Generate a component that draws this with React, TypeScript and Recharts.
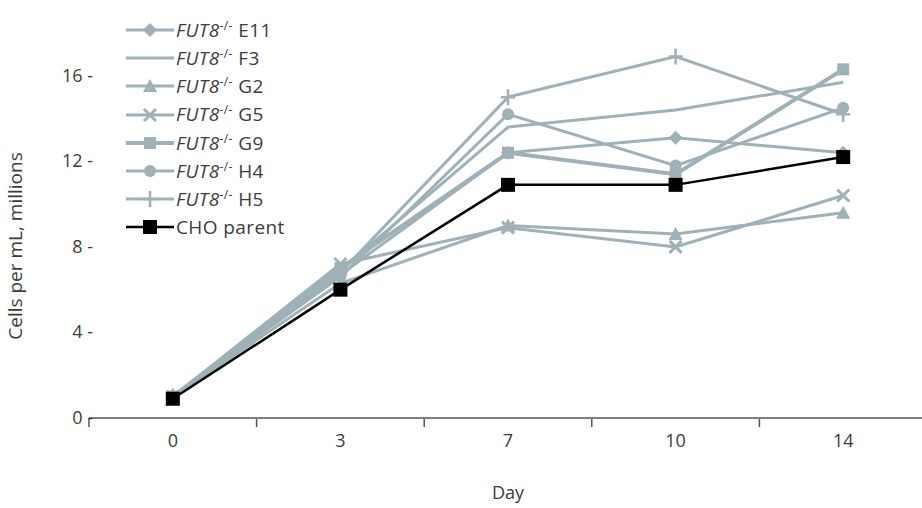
import React from 'react';
import { LineChart, Line, XAxis, YAxis } from 'recharts';

const days = ['0', '3', '7', '10', '14'];

const e11 = [1.0, 6.7, 12.4, 13.1, 12.4];
const f3 = [1.0, 6.9, 13.6, 14.4, 15.7];
const g2 = [1.0, 6.3, 9.0, 8.6, 9.6];
const g5 = [1.0, 7.2, 8.9, 8.0, 10.4];
const g9 = [1.0, 7.0, 12.4, 11.4, 16.3];
const h4 = [1.0, 6.6, 14.2, 11.8, 14.5];
const h5 = [1.0, 6.8, 15.0, 16.9, 14.2];
const cho = [0.9, 6.0, 10.9, 10.9, 12.2];

const yTicks = [0, 4, 8, 12, 16];
const xTicks = [-0.5, 0, 0.5, 1, 1.5, 2, 2.5, 3, 3.5, 4, 4.5];

const GREY = '#9fb1b8';
const FONT = '"Open Sans", sans-serif';
const TEXT = '#3c3c3c';

type Shape = 'diamond' | 'none' | 'triangle' | 'cross' | 'square' | 'circle' | 'plus' | 'black';

const series: { key: string; clone?: string; name: string; shape: Shape; color: string; width: number }[] = [
  { key: 'e11', clone: 'E11', name: 'E11', shape: 'diamond', color: GREY, width: 3 },
  { key: 'f3', clone: 'F3', name: 'F3', shape: 'none', color: GREY, width: 3 },
  { key: 'g2', clone: 'G2', name: 'G2', shape: 'triangle', color: GREY, width: 3 },
  { key: 'g5', clone: 'G5', name: 'G5', shape: 'cross', color: GREY, width: 3 },
  { key: 'g9', clone: 'G9', name: 'G9', shape: 'square', color: GREY, width: 4 },
  { key: 'h4', clone: 'H4', name: 'H4', shape: 'circle', color: GREY, width: 3 },
  { key: 'h5', clone: 'H5', name: 'H5', shape: 'plus', color: GREY, width: 3 },
  { key: 'cho', name: 'CHO parent', shape: 'black', color: '#000', width: 2.5 },
];

const values: Record<string, number[]> = { e11, f3, g2, g5, g9, h4, h5, cho };

const data = days.map((d, i) => {
  const row: Record<string, number | string> = { idx: i, day: d };
  Object.keys(values).forEach((k) => (row[k] = values[k][i]));
  return row;
});

const Marker = ({ cx, cy, shape, color }: { cx: number; cy: number; shape: Shape; color: string }) => {
  if (cx == null || cy == null) return null;
  switch (shape) {
    case 'diamond':
      return <path d={`M${cx},${cy - 7}L${cx + 7},${cy}L${cx},${cy + 7}L${cx - 7},${cy}Z`} fill={color} />;
    case 'triangle':
      return <path d={`M${cx},${cy - 7}L${cx + 7},${cy + 6}L${cx - 7},${cy + 6}Z`} fill={color} />;
    case 'cross':
      return (
        <path d={`M${cx - 6},${cy - 6}L${cx + 6},${cy + 6}M${cx + 6},${cy - 6}L${cx - 6},${cy + 6}`} stroke={color} strokeWidth={3} />
      );
    case 'square':
      return <rect x={cx - 6} y={cy - 6} width={12} height={12} fill={color} />;
    case 'circle':
      return <circle cx={cx} cy={cy} r={6} fill={color} />;
    case 'plus':
      return <path d={`M${cx - 7},${cy}L${cx + 7},${cy}M${cx},${cy - 8}L${cx},${cy + 8}`} stroke={color} strokeWidth={2.5} />;
    case 'black':
      return <rect x={cx - 7} y={cy - 7} width={14} height={14} fill="#000" />;
    default:
      return null;
  }
};

const YTick = ({ x, y, payload }: any) => (
  <text x={x + 12} y={y} dy={6} textAnchor="end" fontFamily={FONT} fontSize={18} fill={TEXT}>
    {payload.value} -
  </text>
);

const XTick = ({ x, y, payload }: any) => {
  const v = payload.value as number;
  if (Number.isInteger(v)) {
    return (
      <text x={x} y={y + 21} textAnchor="middle" fontFamily={FONT} fontSize={18} fill={TEXT}>
        {days[v]}
      </text>
    );
  }
  return <line x1={x} x2={x} y1={y - 7} y2={y + 1} stroke="#555" strokeWidth={1.5} />;
};

const ChartLegend = () => (
  <div style={{ position: 'absolute', left: 124, top: 16, fontFamily: FONT, fontSize: 19, color: TEXT, letterSpacing: 0.4 }}>
    {series.map((s) => (
      <div key={s.key} style={{ display: 'flex', alignItems: 'center', height: 28.2 }}>
        <svg width={52} height={28} style={{ display: 'block' }}>
          <line x1={2} x2={50} y1={14} y2={14} stroke={s.color} strokeWidth={s.width} />
          <Marker cx={26} cy={14} shape={s.shape} color={s.color} />
        </svg>
        {s.clone ? (
          <span>
            <i>FUT8</i>
            <sup style={{ fontSize: 12 }}>-/-</sup> {s.clone}
          </span>
        ) : (
          <span>{s.name}</span>
        )}
      </div>
    ))}
  </div>
);

export default function App() {
  return (
    <div style={{ position: 'absolute', left: 0, top: 0, width: 922, height: 508, overflow: 'hidden', background: '#fff' }}>
      <LineChart width={927} height={508} data={data} margin={{ top: 33, right: 0, bottom: 0, left: 0 }}>
        <XAxis
          dataKey="idx"
          type="number"
          domain={[-0.5, 4.5]}
          ticks={xTicks}
          interval={0}
          height={90}
          tickLine={false}
          axisLine={{ stroke: '#555', strokeWidth: 1.5 }}
          tick={<XTick />}
          label={{
            content: () => (
              <text x={508} y={499} textAnchor="middle" fontFamily={FONT} fontSize={18} fill={TEXT}>
                Day
              </text>
            ),
          }}
        />
        <YAxis
          width={89}
          domain={[0, 18]}
          ticks={yTicks}
          axisLine={false}
          tickLine={false}
          tick={<YTick />}
          label={{
            content: () => (
              <text
                x={22}
                y={246}
                transform="rotate(-90 22 246)"
                textAnchor="middle"
                fontFamily={FONT}
                fontSize={19}
                fill={TEXT}
              >
                Cells per mL, millions
              </text>
            ),
          }}
        />
        {series.map((s) => (
          <Line
            key={s.key}
            dataKey={s.key}
            name={s.name}
            stroke={s.color}
            strokeWidth={s.width}
            isAnimationActive={false}
            dot={(p: any) => <Marker key={`${s.key}-${p.index}`} cx={p.cx} cy={p.cy} shape={s.shape} color={s.color} />}
            activeDot={false}
          />
        ))}
      </LineChart>
      <ChartLegend />
    </div>
  );
}
